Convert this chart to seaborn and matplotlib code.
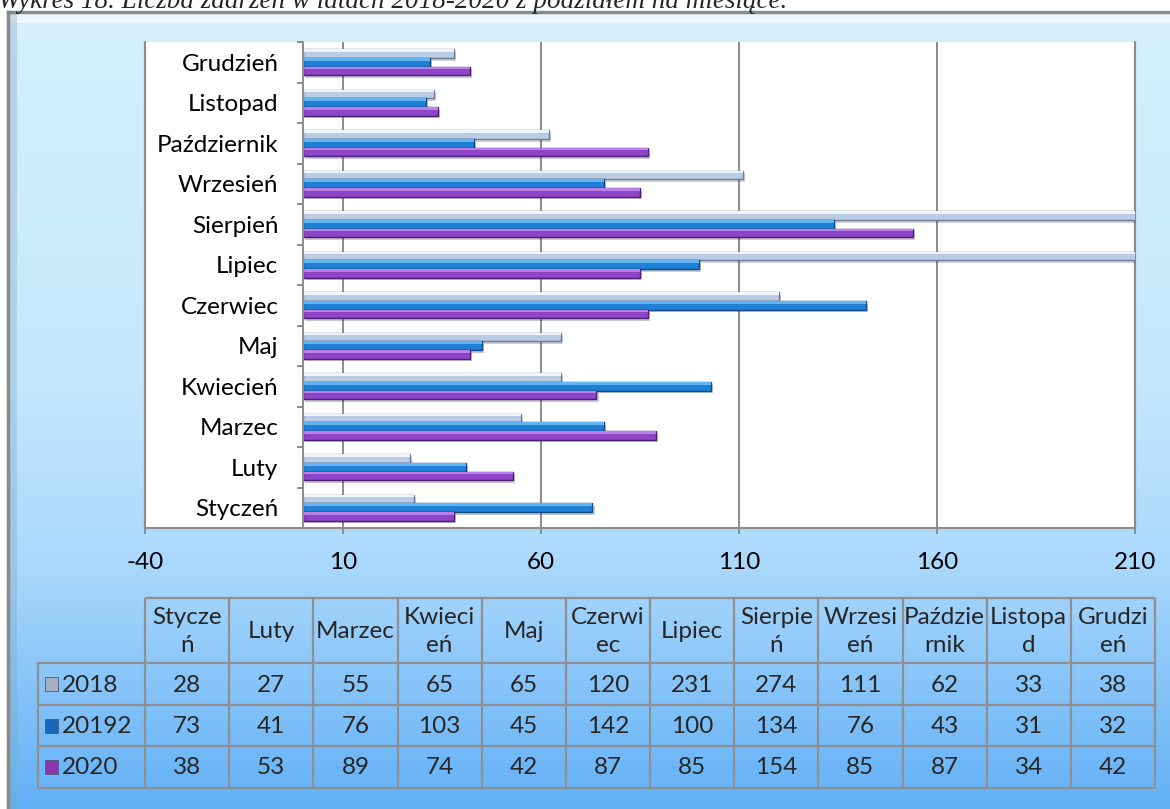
import numpy as np
import pandas as pd
import matplotlib
matplotlib.use("Agg")
import matplotlib.pyplot as plt
import matplotlib.patheffects as pe
from matplotlib.colors import LinearSegmentedColormap
from matplotlib.patches import Rectangle
import seaborn as sns

# dane z wykresu
months = ["Styczeń", "Luty", "Marzec", "Kwiecień", "Maj", "Czerwiec", "Lipiec",
          "Sierpień", "Wrzesień", "Październik", "Listopad", "Grudzień"]
header_labels = ["Stycze\nń", "Luty", "Marzec", "Kwieci\neń", "Maj", "Czerwi\nec", "Lipiec",
                 "Sierpie\nń", "Wrzesi\neń", "Paździe\nrnik", "Listopa\nd", "Grudzi\neń"]
series = ["2018", "20192", "2020"]
v2018 = [28, 27, 55, 65, 65, 120, 231, 274, 111, 62, 33, 38]
v2019 = [73, 41, 76, 103, 45, 142, 100, 134, 76, 43, 31, 32]
v2020 = [38, 53, 89, 74, 42, 87, 85, 154, 85, 87, 34, 42]
x_ticks = [-40, 10, 60, 110, 160, 210]
title = "Wykres 18. Liczba zdarzeń w latach 2018-2020 z podziałem na miesiące."

bar_colors = ["#bccbe4", "#1f80d6", "#8f45c8"]
light_colors = ["#eef4fc", "#62b4f2", "#bb80e8"]
edge_colors = ["#6b7b99", "#0e4a88", "#4b1f72"]
key_colors = ["#a7afc6", "#1a66b8", "#8a34b0"]
gray = "#8c8c8c"
fs = 17.5

W, H = 1170, 809


def px_rect(x0, y0, x1, y1):
    return [x0 / W, 1 - y1 / H, (x1 - x0) / W, (y1 - y0) / H]


sns.set_theme(style="white")
plt.rcParams["font.family"] = ["Lato", "DejaVu Sans"]
plt.rcParams["axes.unicode_minus"] = False

fig = plt.figure(figsize=(W / 100, H / 100), dpi=100)
fig.patch.set_facecolor("white")

# tlo z gradientem
bg = fig.add_axes(px_rect(8, 12, W, H), zorder=0)
cmap = LinearSegmentedColormap.from_list(
    "bg", [(0, "#d6f0fd"), (0.45, "#c6e8fc"), (0.7, "#a9d7fc"), (1, "#62b0f6")])
bg.imshow(np.linspace(0, 1, 256).reshape(-1, 1), aspect="auto", cmap=cmap, extent=[0, 1, 0, 1])
bg.set_xlim(0, 1)
bg.set_ylim(0, 1)
bg.set_xticks([])
bg.set_yticks([])
for s in ["right", "bottom"]:
    bg.spines[s].set_visible(False)
for s in ["left", "top"]:
    bg.spines[s].set_color("#8a8a8a")
    bg.spines[s].set_linewidth(2.5)
bg.add_patch(Rectangle((0, 0.986), 1, 0.014, transform=bg.transAxes, color="white", alpha=0.55, lw=0))
bg.add_patch(Rectangle((0, 0), 0.008, 1, transform=bg.transAxes, color="#7fa6bf", alpha=0.35, lw=0))

# wykres slupkowy
df = pd.DataFrame({
    "miesiac": months * 3,
    "rok": np.repeat(series, len(months)),
    "liczba": v2018 + v2019 + v2020,
})

ax = fig.add_axes(px_rect(145, 42, 1135, 528), zorder=1)
ax.set_facecolor("white")
sns.barplot(data=df, x="liczba", y="miesiac", hue="rok", order=months[::-1], hue_order=series,
            palette=bar_colors, orient="h", width=0.64, gap=0, saturation=1,
            errorbar=None, legend=False, ax=ax)
for cont, ec, lc in zip(ax.containers, edge_colors, light_colors):
    for bar in cont:
        bar.set_edgecolor(ec)
        bar.set_linewidth(1.0)
        bar.set_path_effects([pe.SimplePatchShadow(offset=(1.5, -2), alpha=0.25), pe.Normal()])
        # jasny pasek u gory slupka (efekt 3D)
        x0, y0 = bar.get_x(), bar.get_y()
        hl = Rectangle((x0, y0), bar.get_width(), bar.get_height() * 0.3,
                       facecolor=lc, lw=0, zorder=bar.get_zorder() + 0.1)
        ax.add_patch(hl)

ax.set_xlim(-40, 210)
ax.set_ylim(11.5, -0.5)
ax.set_xticks(x_ticks)
ax.set_xlabel("")
ax.set_ylabel("")
ax.grid(axis="x", color=gray, lw=1.4)
ax.set_axisbelow(True)
ax.axvline(-40, color=gray, lw=1.6, clip_on=False, zorder=0.5)
ax.axvline(210, color=gray, lw=1.6, clip_on=False, zorder=0.5)
ax.spines["top"].set_visible(False)
ax.spines["right"].set_visible(False)
ax.spines["bottom"].set_color(gray)
ax.spines["bottom"].set_linewidth(1.5)
ax.spines["left"].set_position(("data", 0))
ax.spines["left"].set_color(gray)
ax.spines["left"].set_linewidth(1.4)
ax.set_yticks(np.arange(-0.5, 12, 1), minor=True)
ax.tick_params(axis="y", which="major", length=0, pad=18, labelsize=fs, labelcolor="black")
ax.tick_params(axis="y", which="minor", left=True, length=4, width=1.4, color=gray, direction="out")
ax.tick_params(axis="x", bottom=True, length=4, width=1.4, color=gray, direction="out",
               pad=13, labelsize=fs, labelcolor="black")

# tabela danych
ov = fig.add_axes([0, 0, 1, 1], zorder=2)
ov.set_xlim(0, W)
ov.set_ylim(H, 0)
ov.axis("off")
ov.patch.set_alpha(0)

fig.text(-2 / W, 1 - 8 / H, title, family=["Liberation Serif", "DejaVu Serif"], style="italic",
         fontsize=19.5, va="baseline", ha="left")

tab_left, col0, col_right = 38, 145, 1155
col_w = (col_right - col0) / len(months)
rows_y = [598, 663, 705, 746, 788]
tcol = "#8f8f8f"
ov.hlines(rows_y[0], col0, col_right, color=tcol, lw=1.6)
ov.hlines(rows_y[1:], tab_left, col_right, color=tcol, lw=1.6)
ov.vlines([col0 + i * col_w for i in range(len(months) + 1)], rows_y[0], rows_y[-1], color=tcol, lw=1.6)
ov.vlines(tab_left, rows_y[1], rows_y[-1], color=tcol, lw=1.6)

for i, lab in enumerate(header_labels):
    ov.text(col0 + (i + 0.5) * col_w, (rows_y[0] + rows_y[1]) / 2 + 1, lab, ha="center", va="center",
            fontsize=fs, linespacing=1.4)

for r, (name, vals, kc) in enumerate(zip(series, [v2018, v2019, v2020], key_colors)):
    yc = (rows_y[r + 1] + rows_y[r + 2]) / 2
    ov.add_patch(Rectangle((45, yc - 7), 13, 14, facecolor=kc, edgecolor="#555577", lw=0.6))
    ov.text(62, yc + 1, name, ha="left", va="center", fontsize=fs)
    for i, v in enumerate(vals):
        ov.text(col0 + (i + 0.5) * col_w, yc + 1, str(v), ha="center", va="center", fontsize=fs)

fig.savefig("out.png", dpi=100)
